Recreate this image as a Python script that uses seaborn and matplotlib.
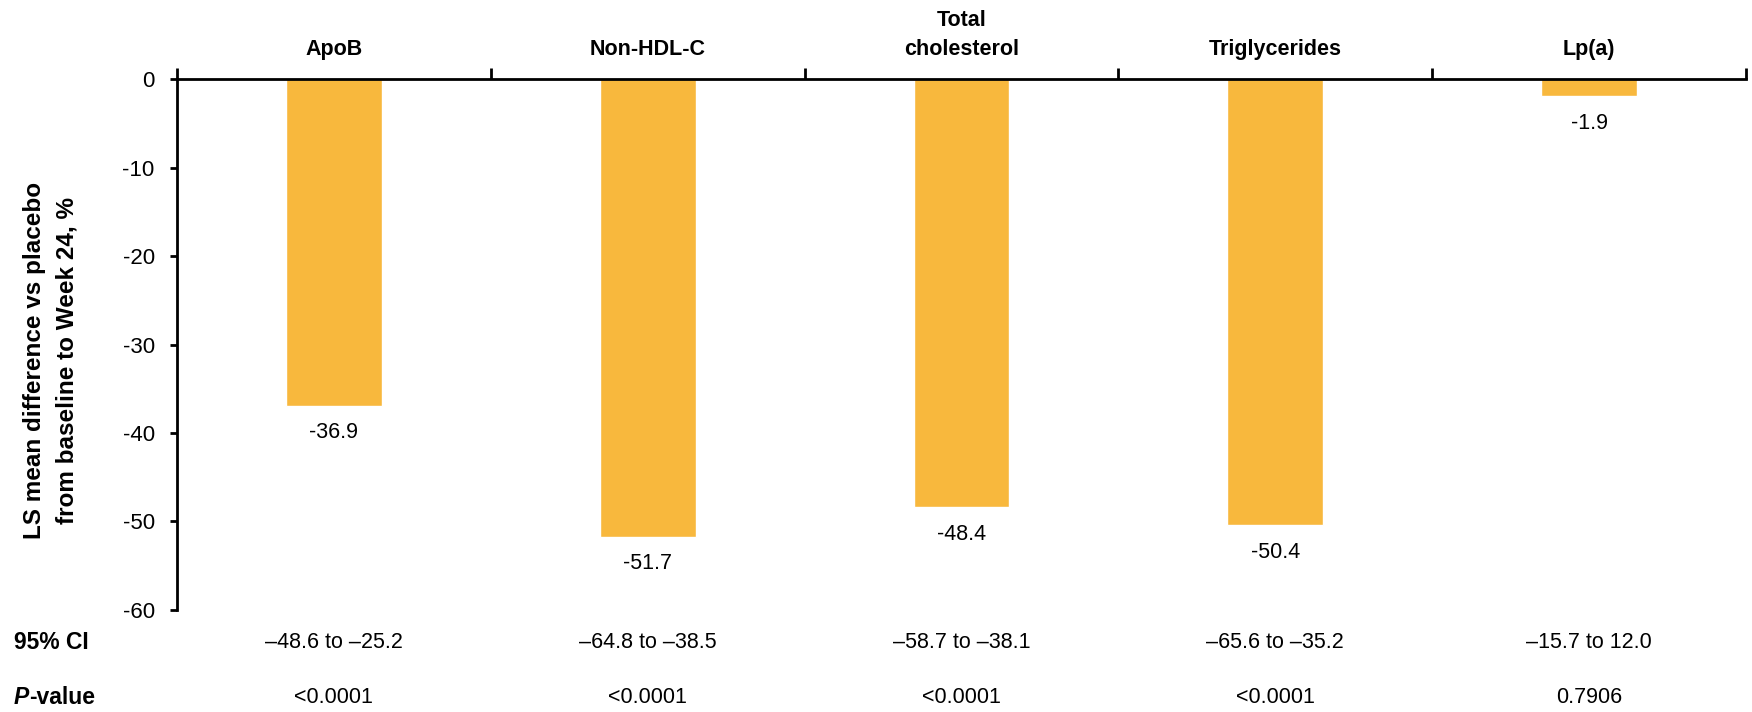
import matplotlib
matplotlib.use("Agg")
import matplotlib.pyplot as plt
import matplotlib.transforms as mtransforms
import seaborn as sns
import pandas as pd

# Datos
parametros = ["ApoB", "Non-HDL-C", "Total\ncholesterol", "Triglycerides", "Lp(a)"]
diferencia = [-36.9, -51.7, -48.4, -50.4, -1.9]
ic95 = ["\u201348.6 to \u201325.2", "\u201364.8 to \u201338.5", "\u201358.7 to \u201338.1",
        "\u201365.6 to \u201335.2", "\u201315.7 to 12.0"]
pvalor = ["<0.0001", "<0.0001", "<0.0001", "<0.0001", "0.7906"]
yticks = [0, -10, -20, -30, -40, -50, -60]

df = pd.DataFrame({"param": parametros, "dif": diferencia})

sns.set_theme(style="white")
plt.rcParams["font.family"] = ["Liberation Sans Narrow", "Liberation Sans", "DejaVu Sans"]
plt.rcParams["axes.unicode_minus"] = False
plt.rcParams["text.color"] = "black"
plt.rcParams["axes.labelcolor"] = "black"
plt.rcParams["xtick.color"] = "black"
plt.rcParams["ytick.color"] = "black"

fig = plt.figure(figsize=(17.52, 7.12), dpi=100)
ax = fig.add_axes([0.101, 0.1433, 0.8956, 0.7457])

sns.barplot(data=df, x="param", y="dif", color="#F8B83D", width=0.305,
            saturation=1, ax=ax)

ax.set_ylim(-60, 0)
ax.set_xlim(-0.5, len(parametros) - 0.5)
ax.set_yticks(yticks)
ax.set_yticklabels([str(v) for v in yticks], fontsize=16)

# eje x arriba, ticks en los limites de cada categoria
ax.xaxis.tick_top()
ax.set_xticks([i - 0.5 for i in range(len(parametros) + 1)])
ax.set_xticklabels([])
ax.set_xticks(range(len(parametros)), minor=True)
ax.set_xticklabels(parametros, minor=True, fontsize=15.5, fontweight="bold",
                   linespacing=1.45)
ax.tick_params(axis="x", which="major", direction="out", length=8, width=2, top=True)
ax.tick_params(axis="x", which="minor", length=0, pad=14, top=True)
ax.tick_params(axis="y", direction="out", length=5, width=2, left=True, pad=11)

for s in ["bottom", "right"]:
    ax.spines[s].set_visible(False)
for s in ["top", "left"]:
    ax.spines[s].set_linewidth(2)
    ax.spines[s].set_color("black")

ax.set_xlabel("")
ax.set_ylabel("LS mean difference vs placebo\nfrom baseline to Week 24, %",
              fontsize=17.5, fontweight="bold", labelpad=32, linespacing=1.5)
ax.yaxis.label.set_y(0.47)

# etiquetas de valor debajo de cada barra
for i, v in enumerate(diferencia):
    ax.annotate(f"{v}", xy=(i, v), xytext=(0, -12), textcoords="offset points",
                ha="center", va="top", fontsize=15.5)

# filas de IC y p-valor debajo del grafico
trans = mtransforms.blended_transform_factory(ax.transData, fig.transFigure)
for i in range(len(parametros)):
    ax.text(i, 0.098, ic95[i], transform=trans, ha="center", va="center", fontsize=15.5)
    ax.text(i, 0.02, pvalor[i], transform=trans, ha="center", va="center", fontsize=15.5)

fig.text(0.008, 0.098, "95% CI", ha="left", va="center", fontsize=16.5, fontweight="bold")
tp = fig.text(0.008, 0.02, "P", ha="left", va="center", fontsize=16.5,
              fontweight="bold", fontstyle="italic")
fig.canvas.draw()
ax.annotate("-value", xy=(1, 0.5), xycoords=tp, ha="left", va="center",
            fontsize=16.5, fontweight="bold", annotation_clip=False)

fig.savefig("out.png", dpi=100)
